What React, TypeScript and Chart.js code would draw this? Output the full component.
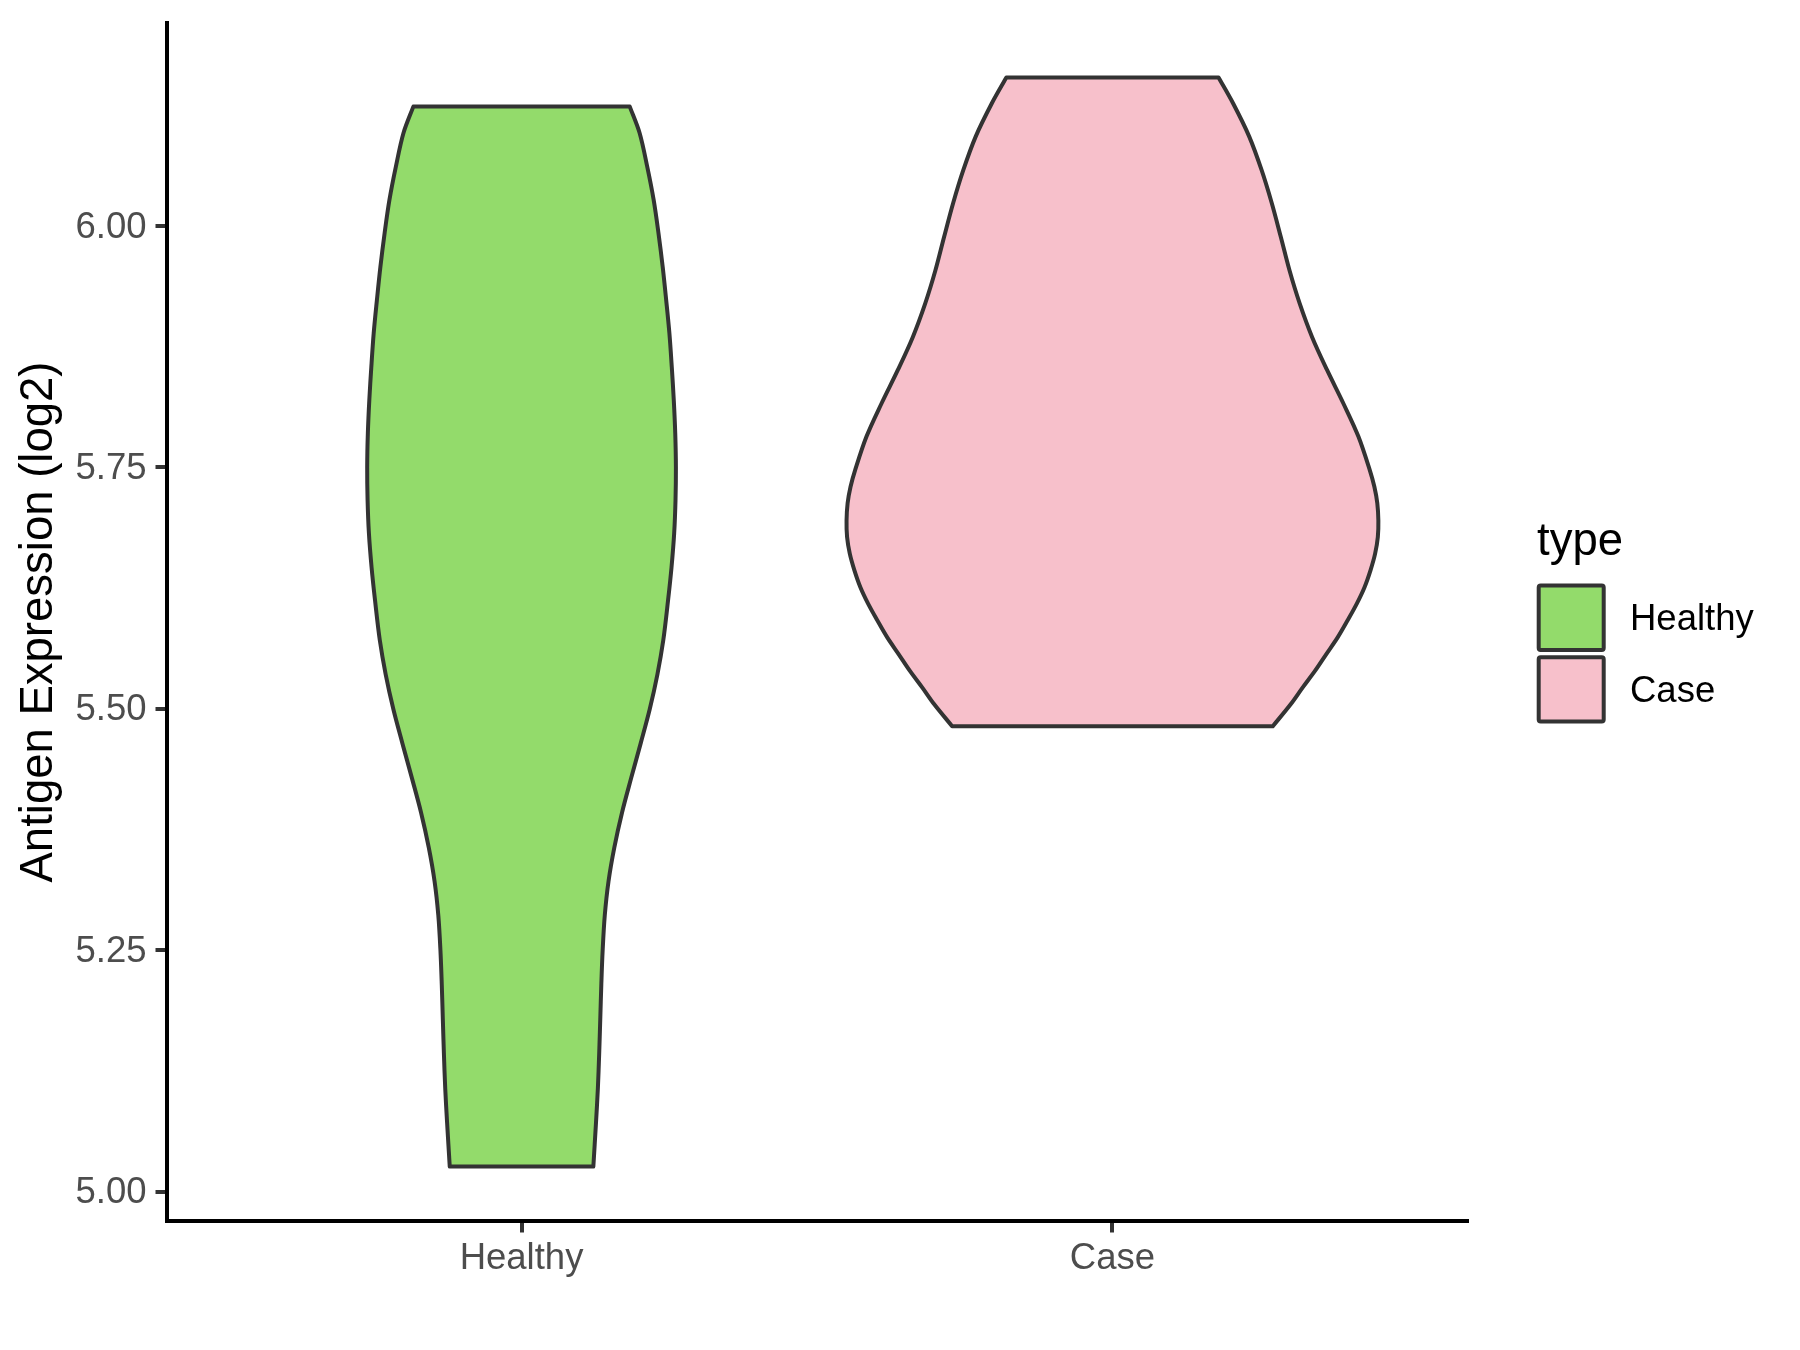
import React, { useEffect, useRef } from 'react';
import { Chart, registerables } from 'chart.js';

Chart.register(...registerables);

// ---- data ----
const categories = ['Healthy', 'Case'];
const fillColors = ['#93DB6B', '#F7C0CB'];
const outlineColor = '#333333';

// Healthy violin: y values (bottom -> top) and scaled density (1 = widest violin)
const healthyY = [
  5.0259, 5.0715, 5.1067, 5.143, 5.1782, 5.2145, 5.2497, 5.286, 5.3212, 5.3565,
  5.3927, 5.428, 5.4642, 5.4995, 5.5358, 5.571, 5.6124, 5.6466, 5.6819, 5.7161,
  5.7503, 5.7855, 5.8197, 5.8539, 5.8891, 5.9233, 5.9575, 5.9927, 6.0269, 6.0611,
  6.0964, 6.1238,
];
const healthyDensity = [
  0.27, 0.28, 0.287, 0.292, 0.296, 0.3, 0.305, 0.313, 0.327, 0.349,
  0.378, 0.412, 0.448, 0.482, 0.511, 0.533, 0.551, 0.564, 0.574, 0.579,
  0.5805, 0.578, 0.5725, 0.565, 0.556, 0.544, 0.531, 0.515, 0.497, 0.473,
  0.444, 0.407,
];

// Case violin
const caseY = [
  5.482, 5.505, 5.522, 5.539, 5.557, 5.574, 5.592, 5.609, 5.626, 5.644,
  5.661, 5.678, 5.695, 5.713, 5.73, 5.747, 5.782, 5.816, 5.851, 5.885,
  5.92, 5.954, 5.989, 6.024, 6.058, 6.093, 6.127, 6.154,
];
const caseDensity = [
  0.603, 0.671, 0.715, 0.761, 0.805, 0.847, 0.885, 0.919, 0.948, 0.971,
  0.988, 0.998, 1.0, 0.996, 0.985, 0.968, 0.925, 0.869, 0.807, 0.751,
  0.704, 0.666, 0.633, 0.599, 0.561, 0.514, 0.454, 0.399,
];

const yTicks = [5.0, 5.25, 5.5, 5.75, 6.0];
const yTitle = 'Antigen Expression (log2)';
const legendTitle = 'type';

const FONT = "'Liberation Sans', Arial, Helvetica, sans-serif";

// closed outline: right side bottom->top, left side top->bottom; corners doubled
// so the smoothed curve keeps sharp corners at the flat top and bottom.
function violinPolygon(center: number, ys: number[], ds: number[]) {
  const half = 0.45;
  const right = ys.map((y, i) => ({ x: center + half * ds[i], y }));
  const left = ys.map((y, i) => ({ x: center - half * ds[i], y })).reverse();
  const n = right.length;
  return [
    ...right,
    right[n - 1],
    left[0],
    ...left,
    left[n - 1],
    right[0],
  ];
}

const violins = [
  { ys: healthyY, ds: healthyDensity },
  { ys: caseY, ds: caseDensity },
];

const allY = [...healthyY, ...caseY];
const yLo = Math.min(...allY);
const yHi = Math.max(...allY);
const yPad = (yHi - yLo) * 0.05;

const legendPlugin = {
  id: 'ggLegend',
  afterDraw(chart: any) {
    const ctx = chart.ctx as CanvasRenderingContext2D;
    ctx.save();
    ctx.fillStyle = '#000000';
    ctx.font = `45.5px ${FONT}`;
    ctx.textAlign = 'left';
    ctx.textBaseline = 'alphabetic';
    ctx.fillText(legendTitle, 1537, 555);
    categories.forEach((c, i) => {
      const top = 585.5 + i * 71.7;
      ctx.beginPath();
      if ((ctx as any).roundRect) (ctx as any).roundRect(1538.7, top, 65, 64.4, 2);
      else ctx.rect(1538.7, top, 65, 64.4);
      ctx.fillStyle = fillColors[i];
      ctx.fill();
      ctx.lineWidth = 4;
      ctx.strokeStyle = outlineColor;
      ctx.lineJoin = 'round';
      ctx.stroke();
      ctx.fillStyle = '#000000';
      ctx.font = `36.5px ${FONT}`;
      ctx.fillText(c, 1630, 630 + i * 71.7);
    });
    ctx.restore();
  },
};

export default function App() {
  const ref = useRef<HTMLCanvasElement | null>(null);

  useEffect(() => {
    document.body.style.margin = '0';
    const canvas = ref.current;
    if (!canvas) return;
    const chart = new Chart(canvas, {
      type: 'line',
      data: {
        datasets: violins.map((v, i) => ({
          label: categories[i],
          data: violinPolygon(i + 1, v.ys, v.ds),
          borderColor: outlineColor,
          borderWidth: 4,
          backgroundColor: fillColors[i],
          fill: 'shape',
          pointRadius: 0,
          pointHoverRadius: 0,
          tension: 0.33,
          borderJoinStyle: 'round',
          borderCapStyle: 'round',
        })),
      },
      options: {
        responsive: false,
        animation: false,
        devicePixelRatio: 1,
        layout: { padding: { top: 23, right: 333, bottom: 0, left: 0 } },
        plugins: {
          legend: { display: false },
          tooltip: { enabled: false },
        },
        scales: {
          x: {
            type: 'linear',
            min: 0.4,
            max: 2.6,
            afterBuildTicks: (s: any) => {
              s.ticks = categories.map((_, i) => ({ value: i + 1 }));
            },
            afterFit: (s: any) => {
              s.height = 129;
              s.paddingLeft = 0;
              s.paddingRight = 0;
            },
            ticks: {
              callback: (v: any) => categories[Math.round(Number(v)) - 1] ?? '',
              color: '#4D4D4D',
              font: { family: FONT, size: 36.5 },
              padding: 5,
              maxRotation: 0,
              autoSkip: false,
            },
            grid: {
              display: true,
              drawOnChartArea: false,
              drawTicks: true,
              tickLength: 11.5,
              tickWidth: 4,
              tickColor: outlineColor,
              color: outlineColor,
              lineWidth: 4,
            },
            border: { display: true, color: '#000000', width: 4 },
          },
          y: {
            type: 'linear',
            min: yLo - yPad,
            max: yHi + yPad,
            afterBuildTicks: (s: any) => {
              s.ticks = yTicks.map((v) => ({ value: v }));
            },
            afterFit: (s: any) => {
              s.width = 167;
              s.paddingTop = 0;
              s.paddingBottom = 0;
            },
            ticks: {
              callback: (v: any) => Number(v).toFixed(2),
              color: '#4D4D4D',
              font: { family: FONT, size: 36.5 },
              padding: 9,
              labelOffset: 1.5,
              autoSkip: false,
            },
            grid: {
              display: true,
              drawOnChartArea: false,
              drawTicks: true,
              tickLength: 11.5,
              tickWidth: 4,
              tickColor: outlineColor,
              color: outlineColor,
              lineWidth: 4,
            },
            border: { display: true, color: '#000000', width: 4 },
            title: {
              display: true,
              text: yTitle,
              color: '#000000',
              font: { family: FONT, size: 45.5 },
              padding: { top: 12.5, bottom: 0 },
            },
          },
        },
      } as any,
      plugins: [legendPlugin],
    });
    return () => chart.destroy();
  }, []);

  return (
    <div style={{ width: 1800, height: 1350, background: '#ffffff' }}>
      <canvas ref={ref} width={1800} height={1350} style={{ display: 'block' }} />
    </div>
  );
}
